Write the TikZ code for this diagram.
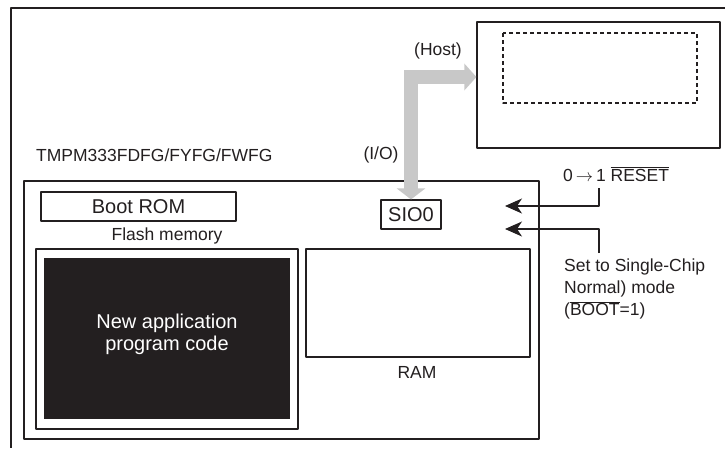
\documentclass[tikz,border=0pt]{standalone}
\usepackage{fontspec}
\setmainfont{Liberation Sans}
\usetikzlibrary{arrows.meta}
\definecolor{ink}{HTML}{231F20}
\definecolor{bus}{HTML}{C8C8C8}
\newcommand{\ovl}[1]{$\overline{\hbox{#1}}$}
\tikzset{
  blk/.style={draw=ink, line width=1.1pt, inner sep=0pt},
  lbl/.style={inner sep=0pt, text=ink, font=\fontsize{17.5}{22}\selectfont},
  big/.style={inner sep=0pt, text=ink, font=\fontsize{20}{22}\selectfont},
  sig/.style={draw=ink, line width=1.2pt, -{Stealth[length=17pt,width=15pt,inset=5pt]}},
  hostbus/.style={draw=bus, line width=14pt, line join=miter,
    {Triangle[length=11pt,width=28pt]}-{Triangle[length=12pt,width=26pt]}}
}
\begin{document}
\begin{tikzpicture}[x=1pt, y=-1pt, line join=round, >=stealth]
    \useasboundingbox (0,0) rectangle (725,448);
    \draw[ink, line width=1.5pt] (725,8) -- (11,8) -- (11,448);
    % host side
    \node[blk, minimum width=243pt, minimum height=126pt] (host) at (598.5,85) {};
    \draw[ink, line width=1.2pt, dash pattern=on 4pt off 3pt] (503,33) rectangle (697,103);
    \node[lbl] (hostlbl) at (438,51) {(Host)};
    % device
    \node[blk, minimum width=515pt, minimum height=258pt] (chip) at (281.5,310) {};
    \node[lbl, anchor=west] (part) at (36,155) {TMPM333FDFG/FYFG/FWFG};
    \node[lbl] (io) at (381,155) {(I/O)};
    \node[blk, big, minimum width=195pt, minimum height=29pt] (boot) at (138.5,206.5) {Boot ROM};
    \node[lbl] (flashlbl) at (167,236) {Flash memory};
    \node[blk, minimum width=262pt, minimum height=180pt] (flash) at (167,339) {};
    \node[fill=ink, inner sep=0pt, minimum width=246pt, minimum height=161pt] (app) at (167,338.5) {};
    \node[big, text=white, align=center] (applbl) at (167,334) {New application\\program code};
    \node[blk, big, minimum width=60pt, minimum height=29pt] (sio) at (411,214.5) {SIO0};
    \node[blk, minimum width=224pt, minimum height=108pt] (ram) at (418,303) {};
    \node[lbl] (ramlbl) at (417,372) {RAM};
    % pins
    \node[lbl, anchor=west] (rst) at (563,174) {0\,$\rightarrow$\,1 \ovl{RESET}};
    \node[lbl, anchor=north west, align=left] (mode) at (564,259) {Set to Single-Chip\\Normal) mode\\(\ovl{BOOT}=1)};
    \coordinate (rstdrop) at (599,188);
    \coordinate (rsttip) at (505,206);
    \coordinate (moderise) at (599,253);
    \coordinate (modetip) at (505,229);
    \draw[sig] (rstdrop) |- (rsttip);
    \draw[sig] (moderise) |- (modetip);
    \draw[hostbus] (sio.north) |- ([yshift=8pt]host.west);
\end{tikzpicture}
\end{document}
